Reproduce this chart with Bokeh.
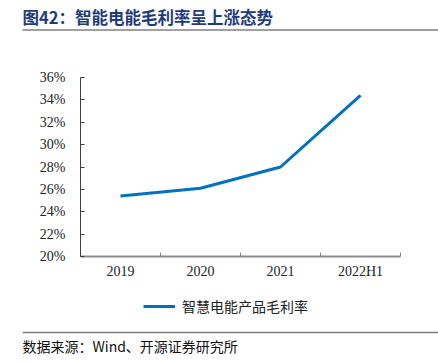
from bokeh.plotting import figure
from bokeh.layouts import column
from bokeh.models import (Range1d, FixedTicker, PrintfTickFormatter,
                          Legend, LegendItem, ColumnDataSource)
from bokeh.core.properties import value
from bokeh.embed import file_html
from bokeh.resources import INLINE

categories = ["2019", "2020", "2021", "2022H1"]
margin_values = [25.4, 26.1, 28.0, 34.4]
y_ticks = [20, 22, 24, 26, 28, 30, 32, 34, 36]
series_name = "智慧电能产品毛利率"
title_text = "图42：智能电能毛利率呈上涨态势"
source_text = "数据来源：Wind、开源证券研究所"

W = 438
HEAD_H, MAIN_H, LEG_H, FOOT_H = 32, 252, 40, 39
FL, FR, FT, FB = 80, 400, 45, 224  # main frame box in main-figure coords
LINE_COLOR = "#0070C0"


def blank(h, xr=None, yr=None):
    f = figure(width=W, height=h, output_backend="svg", toolbar_location=None,
               x_range=xr or Range1d(0, W), y_range=yr or Range1d(h, 0),
               x_axis_location=None, y_axis_location=None,
               min_border=0, frame_align=False)
    f.outline_line_color = None
    f.grid.visible = False
    return f


# header: title + rule
head = blank(HEAD_H)
head.text(x=[22], y=[16], text=[title_text], text_font=value("Noto Sans CJK SC"),
          text_font_size="16.5px", text_font_style="bold", text_color="#1F3C7A",
          text_baseline="middle", text_align="left")
head.segment(x0=[22], y0=[29.5], x1=[W], y1=[29.5], line_color="#808080",
             line_width=1.5)

# main chart
x_pos = [i + 0.5 for i in range(len(categories))]
src = ColumnDataSource(dict(x=x_pos, y=margin_values))

p = figure(width=W, height=MAIN_H, output_backend="svg", toolbar_location=None,
           x_range=Range1d(0, len(categories)), y_range=Range1d(20, 36),
           min_border_left=FL, min_border_right=W - FR,
           min_border_top=FT, min_border_bottom=MAIN_H - FB,
           frame_align=False)
p.outline_line_color = None
p.grid.visible = False

p.line("x", "y", source=src, line_color=LINE_COLOR, line_width=3)

ya = p.yaxis[0]
ya.ticker = FixedTicker(ticks=y_ticks)
ya.formatter = PrintfTickFormatter(format="%d%%")
ya.major_tick_in = 4
ya.major_tick_out = 0
ya.minor_tick_line_color = None
ya.minor_tick_out = 0
ya.axis_line_color = "#404040"
ya.major_tick_line_color = "#404040"
ya.major_label_text_font = "Liberation Serif"
ya.major_label_text_font_size = "14px"
ya.major_label_text_color = "#222222"
ya.major_label_standoff = 15

xa = p.xaxis[0]
xa.ticker = FixedTicker(ticks=x_pos, minor_ticks=list(range(len(categories) + 1)))
xa.major_label_overrides = {x: c for x, c in zip(x_pos, categories)}
xa.major_tick_line_color = None
xa.major_tick_in = 0
xa.major_tick_out = 0
xa.minor_tick_in = 4
xa.minor_tick_out = 0
xa.minor_tick_line_color = "#808080"
xa.axis_line_color = "#8c8c8c"
xa.axis_line_width = 2
xa.major_label_text_font = "Liberation Serif"
xa.major_label_text_font_size = "14px"
xa.major_label_text_color = "#222222"
xa.major_label_standoff = 7

# legend strip (series drawn out of view; only its legend entry shows)
leg = blank(LEG_H, xr=Range1d(1000, 1001), yr=Range1d(20, 36))
r = leg.line("x", "y", source=src, line_color=LINE_COLOR, line_width=3)
legend = Legend(items=[LegendItem(label=series_name, renderers=[r])],
                location=(143, 8), orientation="horizontal",
                padding=0, margin=0, border_line_color=None,
                background_fill_alpha=0, glyph_width=32, glyph_height=20,
                label_standoff=7,
                label_text_font="Noto Sans CJK SC",
                label_text_font_size="14px", label_text_color="#222222")
leg.add_layout(legend, "center")

# footer: rule + source
foot = blank(FOOT_H)
foot.segment(x0=[22], y0=[8], x1=[W], y1=[8], line_color="#808080",
             line_width=1.5)
foot.text(x=[22], y=[21], text=[source_text], text_font=value("Noto Sans CJK SC"),
          text_font_size="14px", text_color="#111111",
          text_baseline="middle", text_align="left")

layout = column(head, p, leg, foot, spacing=0)
open("out.html", "w").write(file_html(layout, INLINE))
